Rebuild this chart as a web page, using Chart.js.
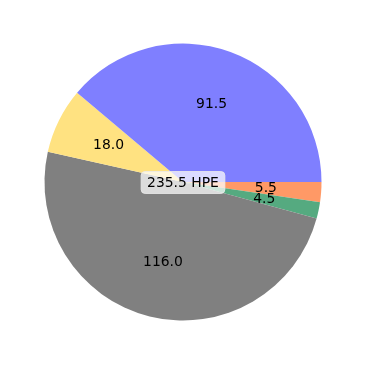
<!DOCTYPE html>
<html>
<head>
<meta charset="utf-8">
<script src="https://cdn.jsdelivr.net/npm/chart.js@4"></script>
<style>
  body { margin: 0; background: #fff; }
  #wrap { width: 366px; height: 366px; }
</style>
</head>
<body>
<div id="wrap"><canvas id="pieChart" width="366" height="366"></canvas></div>
<script>
// slice values, in the order they go round (counter-clockwise from 3 o'clock)
const sliceValues = [91.5, 18.0, 116.0, 4.5, 5.5];
const sliceColors = ['#7f7fff', '#ffe281', '#808080', '#55aa80', '#ff9966'];
const centerLabel = '235.5 HPE';

const FONT = '13.9px "DejaVu Sans", sans-serif';

// Chart.js goes clockwise, so feed the slices reversed
const values = sliceValues.slice().reverse();
const colors = sliceColors.slice().reverse();

// value text at 0.6 of the radius, plus the boxed total in the middle
const labelPlugin = {
    id: 'pieLabels',
    afterDatasetsDraw(chart) {
        const ctx = chart.ctx;
        const meta = chart.getDatasetMeta(0);
        ctx.save();
        ctx.font = FONT;
        ctx.fillStyle = '#000';
        ctx.textAlign = 'center';
        ctx.textBaseline = 'middle';
        meta.data.forEach((arc, i) => {
            const p = arc.getProps(['x', 'y', 'startAngle', 'endAngle', 'outerRadius'], true);
            const mid = (p.startAngle + p.endAngle) / 2;
            const r = p.outerRadius * 0.6;
            ctx.fillText(values[i].toFixed(1), p.x + Math.cos(mid) * r, p.y + Math.sin(mid) * r);
        });

        const c = meta.data[0];
        const w = ctx.measureText(centerLabel).width + 12;
        const h = 22;
        ctx.fillStyle = 'rgba(255,255,255,0.72)';
        ctx.strokeStyle = 'rgba(235,235,235,0.8)';
        ctx.beginPath();
        ctx.roundRect(c.x - w / 2, c.y - h / 2 + 0.5, w, h, 4);
        ctx.fill();
        ctx.stroke();
        ctx.fillStyle = '#000';
        ctx.fillText(centerLabel, c.x, c.y + 1);
        ctx.restore();
    }
};

const ctx = document.getElementById('pieChart').getContext('2d');
new Chart(ctx, {
    type: 'pie',
    data: {
        labels: values.map(v => v.toFixed(1)),
        datasets: [{
            data: values,
            backgroundColor: colors,
            borderWidth: 0
        }]
    },
    options: {
        responsive: false,
        animation: false,
        rotation: 90, // start at 3 o'clock
        layout: { padding: { left: 44.5, right: 44.5, top: 43.5, bottom: 45.5 } },
        plugins: {
            legend: { display: false },
            tooltip: { enabled: false }
        }
    },
    plugins: [labelPlugin]
});
</script>
</body>
</html>
